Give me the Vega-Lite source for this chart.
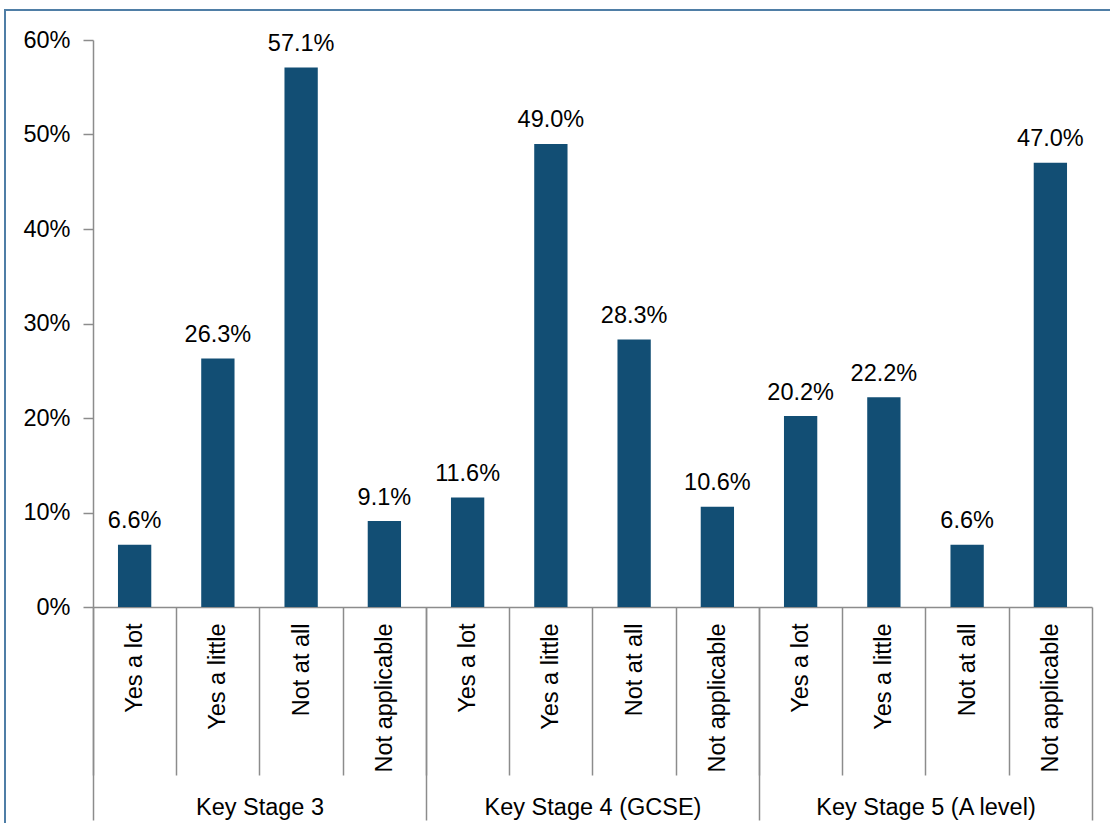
{
  "$schema": "https://vega.github.io/schema/vega-lite/v6.json",
  "autosize": {"type": "none"},
  "padding": {"left": 5, "top": 10, "right": 0, "bottom": 0},
  "width": 1105,
  "height": 813,
  "background": "white",
  "config": {
    "font": "Liberation Sans",
    "view": {"stroke": "#4f7ea6", "strokeWidth": 2, "strokeDash": [1105, 1918, 813]},
    "axis": {
      "labelFont": "Liberation Sans",
      "labelFontSize": 23.5,
      "labelColor": "#000000",
      "labelLimit": 0,
      "domainColor": "#8c8c8c",
      "tickColor": "#8c8c8c",
      "domainWidth": 1.5,
      "tickWidth": 1.5,
      "grid": false,
      "title": null
    }
  },
  "data": {
    "values": [
      {"stage": "Key Stage 3", "response": "Yes a lot", "pct": 6.6},
      {"stage": "Key Stage 3", "response": "Yes a little", "pct": 26.3},
      {"stage": "Key Stage 3", "response": "Not at all", "pct": 57.1},
      {"stage": "Key Stage 3", "response": "Not applicable", "pct": 9.1},
      {"stage": "Key Stage 4 (GCSE)", "response": "Yes a lot", "pct": 11.6},
      {"stage": "Key Stage 4 (GCSE)", "response": "Yes a little", "pct": 49.0},
      {"stage": "Key Stage 4 (GCSE)", "response": "Not at all", "pct": 28.3},
      {"stage": "Key Stage 4 (GCSE)", "response": "Not applicable", "pct": 10.6},
      {"stage": "Key Stage 5 (A level)", "response": "Yes a lot", "pct": 20.2},
      {"stage": "Key Stage 5 (A level)", "response": "Yes a little", "pct": 22.2},
      {"stage": "Key Stage 5 (A level)", "response": "Not at all", "pct": 6.6},
      {"stage": "Key Stage 5 (A level)", "response": "Not applicable", "pct": 47.0}
    ]
  },
  "transform": [
    {"calculate": "datum.stage + '|' + datum.response", "as": "key"},
    {"calculate": "format(datum.pct, '.1f') + '%'", "as": "lbl"}
  ],
  "layer": [
    {
      "encoding": {
        "x": {
          "field": "key",
          "type": "nominal",
          "sort": null,
          "scale": {"range": [88, 1087], "paddingInner": 0.6, "paddingOuter": 0.3},
          "axis": {
            "orient": "bottom",
            "offset": -216,
            "tickOffset": -41.625,
            "labelOffset": 41.625,
            "tickSize": 168,
            "labelAngle": -90,
            "labelAlign": "right",
            "labelBaseline": "middle",
            "labelPadding": -152,
            "labelExpr": "split(datum.label, '|')[1]"
          }
        },
        "y": {
          "field": "pct",
          "type": "quantitative",
          "scale": {"domain": [0, 60], "range": [597, 30], "nice": false},
          "axis": {
            "orient": "left",
            "offset": -88,
            "values": [0, 10, 20, 30, 40, 50, 60],
            "labelExpr": "datum.value + '%'",
            "tickSize": 10,
            "labelPadding": 13
          }
        }
      },
      "layer": [
        {"mark": {"type": "bar", "color": "#124e74"}},
        {
          "mark": {"type": "text", "baseline": "alphabetic", "dy": -16.5, "fontSize": 23.5, "color": "#000000", "font": "Liberation Sans"},
          "encoding": {"text": {"field": "lbl"}}
        }
      ]
    },
    {
      "mark": {"type": "point", "opacity": 0},
      "encoding": {
        "x": {
          "field": "stage",
          "type": "nominal",
          "sort": null,
          "scale": {"range": [88, 1087], "paddingInner": 0, "paddingOuter": 0},
          "axis": {
            "orient": "bottom",
            "offset": -216,
            "tickBand": "extent",
            "tickSize": 213,
            "labelAngle": 0,
            "labelAlign": "center",
            "labelBaseline": "top",
            "labelPadding": -25,
            "domain": false
          }
        }
      }
    }
  ],
  "resolve": {"scale": {"x": "independent"}, "axis": {"x": "independent"}}
}
